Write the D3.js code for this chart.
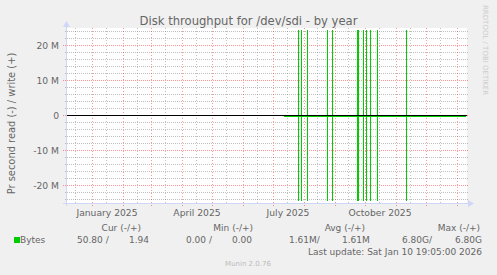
<!DOCTYPE html>
<html>
<head>
<meta charset="utf-8">
<script src="https://cdn.jsdelivr.net/npm/d3@7"></script>
<style>
html,body{margin:0;padding:0;background:#f0f0f0;}
svg{display:block;font-family:"DejaVu Sans",sans-serif;}
</style>
</head>
<body>
<svg id="chart" width="497" height="275"></svg>
<script>
// 数据
var yTicks = [-20e6, -10e6, 0, 10e6, 20e6];
var yTickLabels = ["-20 M", "-10 M", "0", "10 M", "20 M"];
var monthLabels = ["January 2025", "April 2025", "July 2025", "October 2025"];
var monthLabelDates = ["2025-01-16", "2025-04-16", "2025-07-16", "2025-10-16"];

// 写入(+) / 读取(-) 峰值, 字节每秒
var spikeDates = ["2025-07-27", "2025-07-29", "2025-08-04", "2025-08-24", "2025-08-29",
                  "2025-09-23", "2025-09-24", "2025-09-29", "2025-10-02", "2025-10-06",
                  "2025-10-13", "2025-11-11"];
var writeValues = [6.80e9, 1.20e9, 850e6, 420e6, 610e6, 2.10e9, 1.50e9, 930e6, 780e6, 1.10e9, 540e6, 380e6];
var readValues  = [6.80e9, 1.30e9, 790e6, 400e6, 580e6, 2.30e9, 1.40e9, 880e6, 820e6, 1.00e9, 500e6, 360e6];

// 有数据的时间段 (基线)
var baseDates = ["2025-07-12", "2026-01-10"];
var baseWrite = [1.94, 1.94];
var baseRead  = [50.80, 50.80];

var legendHeaders = ["Cur (-/+)", "Min (-/+)", "Avg (-/+)", "Max (-/+)"];
var legendReadVals  = ["50.80 /", "0.00 /", "1.61M/", "6.80G/"];
var legendWriteVals = ["1.94", "0.00", "1.61M", "6.80G"];

var parse = d3.utcParse("%Y-%m-%d");
var svg = d3.select("#chart");

var L = 67, R = 467, T = 28, B = 203;
var xScale = d3.scaleUtc()
    .domain([new Date(Date.UTC(2024, 11, 7)), new Date(Date.UTC(2026, 0, 11))])
    .range([L, R]);
var yScale = d3.scaleLinear()
    .domain([-25e6, 25e6])
    .range([B, T]);

// 像素对齐
function px(v) { return Math.floor(v) + 0.5; }

// 画布
svg.append("rect").attr("x", 0).attr("y", 0).attr("width", 497).attr("height", 275).attr("fill", "#f0f0f0");
svg.append("rect").attr("x", L).attr("y", T).attr("width", R - L).attr("height", B - T).attr("fill", "#ffffff");

var grid = svg.append("g").attr("shape-rendering", "crispEdges");
var minorCol = "rgba(128,128,128,0.5)";
var majorCol = "rgba(255,0,0,0.42)";

// 次网格 (y)
var minorY = d3.range(-24e6, 25e6, 2e6).filter(function (v) { return v % 10e6 !== 0; });
grid.selectAll(".minY").data(minorY).enter().append("line")
    .attr("x1", L - 2).attr("x2", R + 2)
    .attr("y1", function (d) { return px(yScale(d)); })
    .attr("y2", function (d) { return px(yScale(d)); })
    .attr("stroke", minorCol).attr("stroke-dasharray", "1,1");

// 次网格 (x), 每月中旬
var months = d3.utcMonth.range(new Date(Date.UTC(2024, 11, 1)), new Date(Date.UTC(2026, 0, 11)));
var minorX = months.map(function (m) { return d3.utcDay.offset(m, 14); })
    .filter(function (d) { return xScale(d) > L && xScale(d) < R; });
grid.selectAll(".minX").data(minorX).enter().append("line")
    .attr("x1", function (d) { return px(xScale(d)); })
    .attr("x2", function (d) { return px(xScale(d)); })
    .attr("y1", T).attr("y2", B + 2)
    .attr("stroke", minorCol).attr("stroke-dasharray", "1,2");

// 主网格
grid.selectAll(".majY").data(yTicks).enter().append("line")
    .attr("x1", L - 4).attr("x2", R + 2)
    .attr("y1", function (d) { return px(yScale(d)); })
    .attr("y2", function (d) { return px(yScale(d)); })
    .attr("stroke", majorCol).attr("stroke-dasharray", "1,1");

var majorX = xScale.ticks(d3.utcMonth.every(1))
    .filter(function (d) { return xScale(d) > L && xScale(d) < R; });
grid.selectAll(".majX").data(majorX).enter().append("line")
    .attr("x1", function (d) { return px(xScale(d)); })
    .attr("x2", function (d) { return px(xScale(d)); })
    .attr("y1", T).attr("y2", B + 3)
    .attr("stroke", majorCol).attr("stroke-dasharray", "1,2");

// 数据
svg.append("clipPath").attr("id", "clip")
    .append("rect").attr("x", L).attr("y", T + 2).attr("width", R - L).attr("height", B - T - 4);

var series = svg.append("g").attr("clip-path", "url(#clip)").attr("shape-rendering", "crispEdges");

var baseLine = d3.line()
    .x(function (d) { return xScale(d[0]); })
    .y(function (d) { return px(yScale(d[1])) + 1; });
series.append("path")
    .datum(baseDates.map(function (d, i) { return [parse(d), baseWrite[i]]; }))
    .attr("d", baseLine).attr("fill", "none").attr("stroke", "#00cc00").attr("stroke-width", 1);
series.append("path")
    .datum(baseDates.map(function (d, i) { return [parse(d), -baseRead[i]]; }))
    .attr("d", baseLine).attr("fill", "none").attr("stroke", "#00cc00").attr("stroke-width", 1);

series.selectAll(".spike").data(spikeDates).enter().append("line")
    .attr("x1", function (d) { return px(xScale(parse(d))); })
    .attr("x2", function (d) { return px(xScale(parse(d))); })
    .attr("y1", function (d, i) { return yScale(writeValues[i]); })
    .attr("y2", function (d, i) { return yScale(-readValues[i]); })
    .attr("stroke", "#00cc00").attr("stroke-width", 1);

// 零线
svg.append("line").attr("shape-rendering", "crispEdges")
    .attr("x1", L).attr("x2", R)
    .attr("y1", px(yScale(0))).attr("y2", px(yScale(0)))
    .attr("stroke", "#000000");

// 坐标轴
var axisCol = "#cfd6f8";
svg.append("line").attr("shape-rendering", "crispEdges")
    .attr("x1", L - 4).attr("x2", R + 3).attr("y1", B + 0.5).attr("y2", B + 0.5).attr("stroke", axisCol);
svg.append("line").attr("shape-rendering", "crispEdges")
    .attr("x1", L - 0.5).attr("x2", L - 0.5).attr("y1", B + 3).attr("y2", T - 3).attr("stroke", axisCol);
svg.append("path").attr("d", d3.line()([[R + 1, B - 3], [R + 7, B + 0.5], [R + 1, B + 4]])).attr("fill", axisCol);
svg.append("path").attr("d", d3.line()([[L - 4, T - 1], [L - 0.5, T - 7], [L + 3, T - 1]])).attr("fill", axisCol);

// 文字
var fontCol = "#666666";
svg.append("text").attr("x", 248.5).attr("y", 25).attr("text-anchor", "middle")
    .attr("font-size", "11.6px").attr("fill", fontCol)
    .text("Disk throughput for /dev/sdi - by year");

svg.selectAll(".ylab").data(yTicks).enter().append("text")
    .attr("x", 59).attr("y", function (d) { return Math.floor(yScale(d)) + 4; })
    .attr("text-anchor", "end").attr("font-size", "9.2px").attr("fill", fontCol)
    .text(function (d, i) { return yTickLabels[i]; });

svg.selectAll(".xlab").data(monthLabelDates).enter().append("text")
    .attr("x", function (d) { return xScale(parse(d)); }).attr("y", 216)
    .attr("text-anchor", "middle").attr("font-size", "9.2px").attr("fill", fontCol)
    .text(function (d, i) { return monthLabels[i]; });

svg.append("text").attr("transform", "translate(14.5," + 123.5 + ") rotate(-90)")
    .attr("text-anchor", "middle").attr("font-size", "9.9px").attr("fill", fontCol)
    .text("Pr second read (-) / write (+)");

svg.append("text").attr("transform", "translate(483,5) rotate(90)")
    .attr("font-size", "7px").attr("fill", "#cccccc")
    .text("RRDTOOL / TOBI OETIKER");

// 图例
var headX = [141, 253, 365, 480];
svg.selectAll(".lh").data(legendHeaders).enter().append("text")
    .attr("x", function (d, i) { return headX[i]; }).attr("y", 230.5)
    .attr("text-anchor", "end").attr("font-size", "9px").attr("fill", fontCol)
    .text(function (d) { return d; });

svg.append("rect").attr("x", 14).attr("y", 237).attr("width", 6).attr("height", 6).attr("fill", "#00cc00");
svg.append("text").attr("x", 20).attr("y", 243).attr("font-size", "9px").attr("fill", fontCol).text("Bytes");

var readX = [77, 186, 289, 402];
var writeX = [129, 232, 342, 455];
svg.selectAll(".lr").data(legendReadVals).enter().append("text")
    .attr("x", function (d, i) { return readX[i]; }).attr("y", 243)
    .attr("font-size", "9px").attr("fill", fontCol).text(function (d) { return d; });
svg.selectAll(".lw").data(legendWriteVals).enter().append("text")
    .attr("x", function (d, i) { return writeX[i]; }).attr("y", 243)
    .attr("font-size", "9px").attr("fill", fontCol).text(function (d) { return d; });

svg.append("text").attr("x", 482).attr("y", 255).attr("text-anchor", "end")
    .attr("font-size", "9px").attr("fill", fontCol)
    .text("Last update: Sat Jan 10 19:05:00 2026");

svg.append("text").attr("x", 248).attr("y", 266).attr("text-anchor", "middle")
    .attr("font-size", "7px").attr("fill", "#bbbbbb")
    .text("Munin 2.0.76");
</script>
</body>
</html>
